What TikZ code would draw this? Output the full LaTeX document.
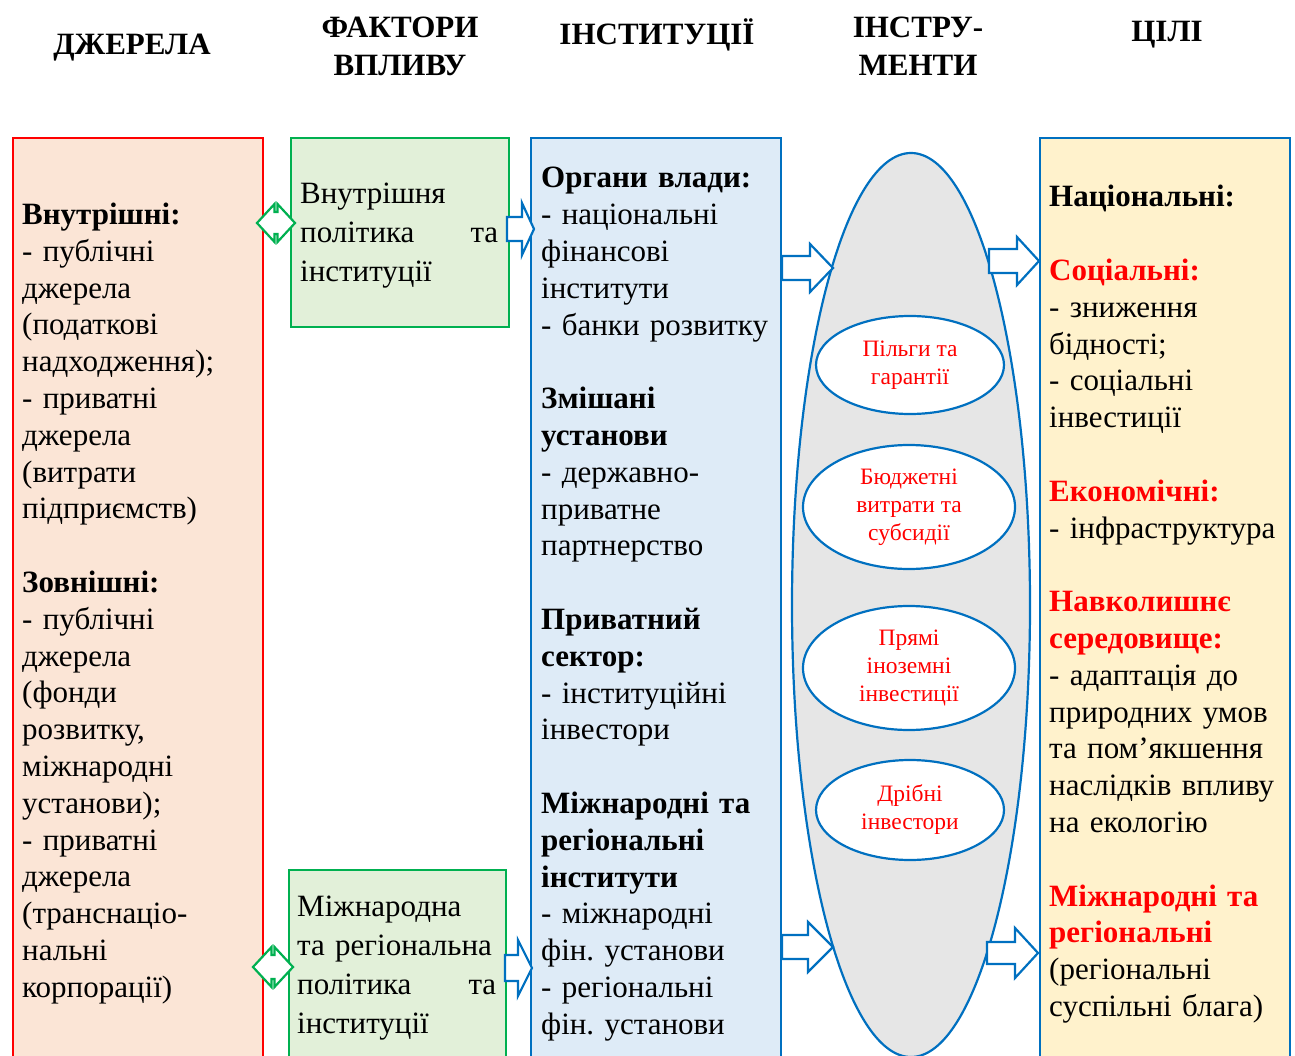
\documentclass[tikz,border=0pt]{standalone}
\usepackage{fontspec}
\setmainfont{Liberation Serif}
\usetikzlibrary{shapes.geometric}
\definecolor{srcline}{HTML}{FF0000}
\definecolor{srcfill}{HTML}{FBE5D6}
\definecolor{inflline}{HTML}{00B050}
\definecolor{inflfill}{HTML}{E2F0D9}
\definecolor{instline}{HTML}{0070C0}
\definecolor{instfill}{HTML}{DEEBF7}
\definecolor{goalfill}{HTML}{FFF2CC}
\definecolor{toolfill}{HTML}{E6E6E6}
\frenchspacing
\tikzset{
  box/.style={draw, line width=2.2pt, anchor=north west, inner sep=0pt},
  coltext/.style={anchor=base west, inner sep=0pt, text width=#1, align=left,
    font=\fontsize{31}{36.8}\selectfont},
  infltext/.style={anchor=base west, inner sep=0pt, text width=#1, align=left,
    font=\fontsize{31}{39}\selectfont},
  head/.style={font=\fontsize{31}{38}\selectfont\bfseries, align=center},
  tool/.style={ellipse, draw=instline, fill=white, line width=2.2pt, inner sep=0pt,
    font=\fontsize{23.5}{28}\selectfont, text=red, align=center},
  arrowline/.style={draw=instline, fill=white, line width=2.2pt, line join=miter},
  twoway/.style={draw=inflline, fill=white, line width=2.2pt, line join=miter}
}
\begin{document}
\begin{tikzpicture}[x=1pt, y=-1pt]
\useasboundingbox (0,0) rectangle (1295,1056);
\clip (0,0) rectangle (1295,1056);
% заголовки колонок
\node[head] (hsrc) at (132,48) {ДЖЕРЕЛА};
\node[head] (hinfl) at (400,46) {ФАКТОРИ\\ВПЛИВУ};
\node[head] (hinst) at (657,35) {ІНСТИТУЦІЇ};
\node[head] (htool) at (918,46) {ІНСТРУ-\\МЕНТИ};
\node[head] (hgoal) at (1167,35) {ЦІЛІ};
% колонки
\node[box, draw=srcline, fill=srcfill, minimum width=250pt, minimum height=940pt] (src) at (12,137) {};
\node[box, draw=inflline, fill=inflfill, minimum width=218pt, minimum height=189pt] (infl1) at (290,137) {};
\node[box, draw=inflline, fill=inflfill, minimum width=217pt, minimum height=200pt] (infl2) at (288,869) {};
\node[box, draw=instline, fill=instfill, minimum width=250pt, minimum height=940pt] (inst) at (530,137) {};
\node[box, draw=instline, fill=goalfill, minimum width=250pt, minimum height=940pt] (goal) at (1039,137) {};
\node[ellipse, draw=instline, fill=toolfill, line width=2.2pt, minimum width=238pt, minimum height=904pt, inner sep=0pt] (tools) at (911,605) {};
% тексти
\node[coltext=235pt] (srctxt) at (22,224.5) {\textbf{Внутрішні:}\\
- публічні\\ джерела\\ (податкові\\ надходження);\\ - приватні\\ джерела\\ (витрати\\ підприємств)\\ ~\\
\textbf{Зовнішні:}\\
- публічні\\ джерела\\ (фонди\\ розвитку,\\ міжнародні\\ установи);\\ - приватні\\ джерела\\ (транснаціо-\\ нальні\\ корпорації)};
\node[infltext=198pt] (infl1txt) at (300,203.5) {Внутрішня\\ політика\hfill та\\ інституції};
\node[infltext=206pt] (infl2txt) at (297,916.5) {Міжнародна\\ та регіональна\\ \makebox[199pt][l]{політика\hfill та}\\ інституції};
\node[coltext=235pt] (insttxt) at (541,188) {\textbf{Органи влади:}\\
- національні\\ фінансові\\ інститути\\ - банки розвитку\\ ~\\
\textbf{Змішані}\\ \textbf{установи}\\ - державно-\\ приватне\\ партнерство\\ ~\\
\textbf{Приватний}\\ \textbf{сектор:}\\ - інституційні\\ інвестори\\ ~\\
\textbf{Міжнародні та}\\ \textbf{регіональні}\\ \textbf{інститути}\\
- міжнародні\\ фін. установи\\ - регіональні\\ фін. установи};
\node[coltext=240pt] (goaltxt) at (1049,207) {\textbf{Національні:}\\ ~\\
\textcolor{red}{\textbf{Соціальні:}}\\ - зниження\\ бідності;\\ - соціальні\\ інвестиції\\ ~\\
\textcolor{red}{\textbf{Економічні:}}\\ - інфраструктура\\ ~\\
\textcolor{red}{\textbf{Навколишнє}}\\ \textcolor{red}{\textbf{середовище:}}\\
- адаптація до\\ природних умов\\ та пом’якшення\\ наслідків впливу\\ на екологію\\ ~\\
\textcolor{red}{\textbf{Міжнародні та}}\\ \textcolor{red}{\textbf{регіональні}}\\
(регіональні\\ суспільні блага)};
% інструменти
\node[tool, minimum width=188pt, minimum height=98pt] (tool1) at (910,365) {Пільги та\\гарантії};
\node[tool, minimum width=212pt, minimum height=124pt] (tool2) at (909,507) {Бюджетні\\витрати та\\субсидії};
\node[tool, minimum width=212pt, minimum height=124pt] (tool3) at (909,668) {Прямі\\іноземні\\інвестиції};
\node[tool, minimum width=188pt, minimum height=100pt] (tool4) at (910,810) {Дрібні\\інвестори};
% стрілки
\foreach \xa/\xb/\xc/\yc/\s/\h in {507/522/534/229/12/26, 505/518/532/968/13/28,
  782/810/833/268/12/24, 989/1017/1039/261/12/24, 782/808/833/947/12/25, 987/1015/1038/953/11/25}
  \draw[arrowline] (\xa,\yc-\s) -- (\xb,\yc-\s) -- (\xb,\yc-\h) -- (\xc,\yc)
    -- (\xb,\yc+\h) -- (\xb,\yc+\s) -- (\xa,\yc+\s) -- cycle;
% двобічні стрілки
\foreach \xm/\ym/\w/\h in {276/223/19/19, 273/967/20/20}
  \draw[twoway] (\xm-\w,\ym) -- (\xm-1.5,\ym-\h) -- (\xm-1.5,\ym-\h+8) -- (\xm+1.5,\ym-\h+8)
    -- (\xm+1.5,\ym-\h) -- (\xm+\w,\ym) -- (\xm+1.5,\ym+\h) -- (\xm+1.5,\ym+\h-8)
    -- (\xm-1.5,\ym+\h-8) -- (\xm-1.5,\ym+\h) -- cycle;
\end{tikzpicture}
\end{document}
